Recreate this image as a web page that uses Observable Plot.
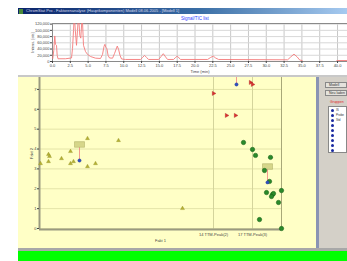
<!DOCTYPE html>
<html><head><meta charset="utf-8">
<script src="https://cdn.jsdelivr.net/npm/d3@7"></script>
<script src="https://cdn.jsdelivr.net/npm/@observablehq/plot@0.6"></script>
<style>
html,body{margin:0;padding:0;background:#fff;width:347px;height:261px;overflow:hidden;font-family:"Liberation Sans",Arial,sans-serif;}
.abs{position:absolute;}
#titlebar{left:18px;top:8px;width:329px;height:6px;background:linear-gradient(to right,#0a246a,#3a6ea5 55%,#a6caf0);}
#titletext{left:26px;top:8px;font-size:4px;line-height:6px;color:#dde;white-space:nowrap;}
#icon{left:19px;top:8.5px;width:4px;height:5px;background:#4a8a3a;}
#ctitle{left:180px;top:16px;width:30px;text-align:center;font-size:4.5px;color:#3040ff;}
#sep{left:18px;top:75px;width:329px;height:2px;background:#c8c8c8;}
#yellow{left:18px;top:77px;width:299px;height:171px;background:#ffffc6;}
#vline{left:316px;top:77px;width:3px;height:171px;background:#8a94b4;}
#gray{left:319px;top:77px;width:28px;height:171px;background:#d4d0c8;}
#bottomgray{left:18px;top:248px;width:329px;height:3px;background:#a8a8a8;}
#green{left:18px;top:251px;width:329px;height:10px;background:#00ff00;}
.btn{left:325px;width:22px;height:6px;background:#e4e2dc;border:0.5px solid #888;box-sizing:border-box;font-size:3.5px;line-height:5px;color:#333;padding-left:3px;}
#redtxt{left:330px;top:100px;font-size:3.5px;color:#e02020;}
#list{left:328px;top:106px;width:19px;height:47px;background:#fff;border:0.5px solid #888;box-sizing:border-box;}
.li{position:absolute;left:2px;width:3px;height:3px;border-radius:50%;background:#1a2aa0;}
.lt{position:absolute;left:7px;font-size:3px;color:#333;}
#chart1,#chart2{position:absolute;left:0;}
#chart1{top:14px;} #chart2{top:77px;}
</style></head>
<body>
<div class="abs" id="titlebar"></div>
<div class="abs" id="icon"></div>
<div class="abs" id="titletext">ChromStat Pro - Faktorenanalyse (Hauptkomponenten) Modell 08.06.2005 - [Modell 1]</div>
<div class="abs" id="ctitle">Signal/TIC list</div>
<div class="abs" id="sep"></div>
<div class="abs" id="yellow"></div>
<div class="abs" id="vline"></div>
<div class="abs" id="gray"></div>
<div class="abs btn" style="top:82px">Modell</div>
<div class="abs btn" style="top:90px">Neu laden</div>
<div class="abs" id="redtxt">Gruppen</div>
<div class="abs" id="list"></div>
<div class="abs" id="bottomgray"></div>
<div class="abs" id="green"></div>
<div id="chart1"></div>
<div id="chart2"></div>
<script>
// ---- Chromatogram (time in min, intensity) ----
const chromTime = [0.04,0.18,0.32,0.42,0.56,0.66,0.77,1.83,2.67,2.81,2.95,3.06,3.2,3.37,3.51,3.65,3.83,3.97,4.17,4.35,4.63,4.92,5.34,6.04,6.74,7.02,7.23,7.35,7.49,7.63,7.8,8.0,8.43,8.71,9.09,9.27,9.48,9.69,10.25,12.36,12.64,12.92,13.2,13.48,14.89,15.24,15.55,15.87,16.15,17.0,17.27,17.51,17.76,17.98,21.77,22.19,22.57,22.89,23.31,33.0,33.43,33.89,34.34,34.69,35.04,35.18,39.75,39.96,41.4];
const chromIntensity = [9700,35700,82000,55000,52000,19500,8800,8800,11300,42000,100000,150000,100000,52000,100000,150000,84000,75000,150000,52000,32000,22700,16000,10700,9700,22700,48600,55000,45000,42000,19500,11300,10700,26000,49600,39000,19500,8100,6500,6500,13000,19500,13000,6500,6500,16000,25000,14600,6500,6500,13000,17200,11300,6500,6500,13000,17200,11300,6500,5500,14600,23700,14600,4900,3200,0,0,3200,3200];
const timeTicks = [0,2.5,5,7.5,10,12.5,15,17.5,20,22.5,25,27.5,30,32.5,35,37.5,40];
const intensityTicks = [0,20000,40000,60000,80000,100000,120000];

// ---- Score plot ----
const scoreGroups = ["Probe","Probe","Probe","Probe","Probe","Probe","Probe","Probe","Probe","Probe","Probe","Probe","Probe",
  "IS","IS","IS","IS","IS",
  "Std","Std","Std","Std","Std","Std","Std","Std","Std","Std","Std","Std","Std","Std"];
const scoreX = [-2.975,-2.775,-2.75,-2.775,-2.45,-2.225,-2.225,-2.15,-1.8,-1.8,-1.6,-1.025,0.575,
  1.35,1.675,1.9,2.275,2.325,
  2.1,2.325,2.4,2.775,2.625,2.75,2.675,2.825,2.85,2.8,3.05,2.975,2.5,3.05];
const scoreY = [3.27,3.73,3.63,3.37,3.52,3.88,3.27,3.37,4.53,3.12,3.27,4.43,1.01,
  6.8,5.69,5.69,7.35,7.25,
  4.33,3.98,3.68,3.58,2.92,2.37,1.81,1.71,1.76,1.61,1.91,1.31,0.45,0.0];
const selX = [-2.0, 1.925, 2.7];
const selY = [3.42, 7.25, 2.32];
const boxY = [4.23, 8.4, 3.12];
const markerX = [1.35, 2.325];
const markerLabels = ["14 TTM-Peak(2)", "17 TTM-Peak(3)"];
const scoreTicks = [0,1,2,3,4,5,6,7];
const listItems = ["IS","Probe","Std","","","","","",""];

// list box
const list = document.getElementById("list");
listItems.forEach((t,i)=>{
  const d=document.createElement("div"); d.className="li"; d.style.top=(1.5+i*5)+"px"; list.appendChild(d);
  const s=document.createElement("div"); s.className="lt"; s.style.top=(0.5+i*5)+"px"; s.textContent=t; list.appendChild(s);
});

const chrom = chromTime.map((t,i)=>({t, v: chromIntensity[i]}));
const font = {fontSize:"4px", fontFamily:"Liberation Sans, Arial, sans-serif", color:"#444", background:"transparent", overflow:"visible"};

const c1 = Plot.plot({
  width:347, height:63, marginLeft:52, marginRight:0, marginTop:9, marginBottom:16,
  style: font,
  x:{domain:[0,41.4]},
  y:{domain:[0,122000]},
  marks:[
    Plot.gridX(timeTicks,{stroke:"#c8c8c8", strokeOpacity:1}),
    Plot.gridY(intensityTicks,{stroke:"#d8d8d8", strokeOpacity:1}),
    Plot.frame({stroke:"#8a8a8a"}),
    Plot.line(chrom,{x:"t", y:"v", stroke:"#f47a7a", strokeWidth:0.9, clip:true}),
    Plot.axisX(timeTicks,{tickFormat:d3.format(".1f"), tickSize:2, tickPadding:1, label:"Time (min)", labelAnchor:"center", labelArrow:"none", labelOffset:11}),
    Plot.axisY(intensityTicks,{tickFormat:d3.format(","), tickSize:2, tickPadding:1, label:"Intens. [cts]", labelAnchor:"center", labelArrow:"none", labelOffset:21})
  ]
});
document.getElementById("chart1").appendChild(c1);

const pts = scoreX.map((x,i)=>({x, y:scoreY[i], g:scoreGroups[i]}));
const sel = selX.map((x,i)=>({x, y:selY[i], by:boxY[i]}));
const boxSymbol = {draw(ctx){ ctx.rect(-5,-2.8,10,5.6); }};

const c2 = Plot.plot({
  width:317, height:171, marginLeft:39, marginRight:36, marginTop:0, marginBottom:19,
  style: font,
  x:{domain:[-3,3.05]},
  y:{domain:[-0.05,7.6]},
  marks:[
    Plot.ruleY(scoreTicks,{stroke:"#e4e4a8"}),
    Plot.ruleX(markerX,{stroke:"#d4d49c"}),
    Plot.ruleX([3.05],{stroke:"#a8a878", strokeWidth:1}),
    Plot.ruleX([-3],{stroke:"#9a9a80", strokeWidth:2}),
    Plot.ruleY([-0.05],{stroke:"#9a9a80", strokeWidth:2}),
    Plot.link(sel,{x1:"x", y1:"y", x2:"x", y2:"by", stroke:"#f08080", strokeWidth:0.8, clip:true}),
    Plot.dot(sel,{x:"x", y:"by", symbol:boxSymbol, fill:"#d6d68a", stroke:"#a8a860", strokeWidth:0.5, clip:true}),
    Plot.dot(pts.filter(d=>d.g==="Probe"),{x:"x", y:"y", symbol:"triangle", r:1.5, fill:"#b4b034", stroke:"#8a8820", strokeWidth:0.3}),
    Plot.dot(pts.filter(d=>d.g==="IS"),{x:"x", y:"y", symbol:"triangle", rotate:90, r:1.6, fill:"#d83030", stroke:"#a02020", strokeWidth:0.3}),
    Plot.dot(pts.filter(d=>d.g==="Std"),{x:"x", y:"y", r:2.2, fill:"#2a8a2a", stroke:"#145a14", strokeWidth:0.5}),
    Plot.dot(sel,{x:"x", y:"y", r:1.7, fill:"#3050c0", stroke:"#203080", strokeWidth:0.3}),
    Plot.axisY(scoreTicks,{tickSize:2, tickPadding:1, label:"Fakt 2", labelAnchor:"center", labelArrow:"none", labelOffset:9}),
    Plot.axisX(markerX,{tickSize:0, tickPadding:4, tickFormat:(d,i)=>markerLabels[i], label:"Fakt 1", labelAnchor:"center", labelArrow:"none", labelOffset:12})
  ]
});
document.getElementById("chart2").appendChild(c2);
</script>
</body></html>
